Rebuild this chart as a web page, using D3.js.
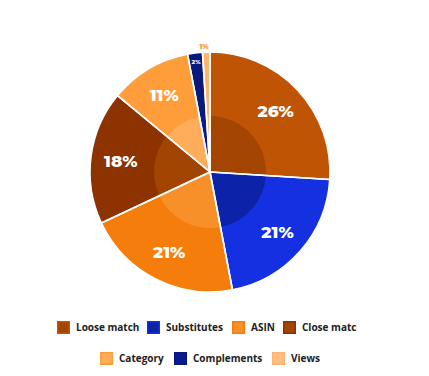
<!DOCTYPE html>
<html><head><meta charset="utf-8">
<script src="https://cdn.jsdelivr.net/npm/d3@7"></script>
<style>html,body{margin:0;padding:0;background:#fff;}svg{display:block;}</style>
</head><body>
<svg id="chart" width="429" height="376"></svg>
<script>
const categories = ["Loose match","Substitutes","ASIN","Close match","Category","Complements","Views"];
const values = [26,21,21,18,11,2,1];
const labels = ["26%","21%","21%","18%","11%","2%","1%"];
const colors = ["#c05405","#1430e0","#f57d0c","#8c3300","#fe9d3a","#0a1a7a","#ffb470"];
const innerColors = ["#a54502","#0c22a8","#f8902a","#a24402","#ffad5a","#0a1a90","#ffbe80"];

const svg = d3.select("#chart");
const cx = 210, cy = 172, R = 120, rIn = 56;
const g = svg.append("g").attr("transform", `translate(${cx},${cy})`);
const pie = d3.pie().sort(null).value(d => d)(values);
const arc = d3.arc().innerRadius(0).outerRadius(R);
const arcIn = d3.arc().innerRadius(0).outerRadius(rIn);

g.selectAll("path.o").data(pie).join("path").attr("class","o")
  .attr("d", arc).attr("fill", (d,i) => colors[i]);
g.selectAll("path.i").data(pie).join("path").attr("class","i")
  .attr("d", arcIn).attr("fill", (d,i) => innerColors[i]);
g.selectAll("path.s").data(pie).join("path").attr("class","s")
  .attr("d", arc).attr("fill", "none").attr("stroke","#fff").attr("stroke-width",1.6).attr("stroke-linejoin","round");

const labArc = d3.arc().innerRadius(90).outerRadius(90);
g.selectAll("text.l").data(pie).join("text").attr("class","l")
  .attr("transform", (d,i) => {
    if (i === 5) { const c = d3.arc().innerRadius(111).outerRadius(111).centroid(d); return `translate(${c})`; }
    if (i === 6) { const c = d3.arc().innerRadius(126).outerRadius(126).centroid(d); return `translate(${c[0]-2},${c[1]})`; }
    return `translate(${labArc.centroid(d)})`;
  })
  .attr("text-anchor","middle").attr("dy","0.36em")
  .attr("font-family","Montserrat, 'Open Sans', sans-serif").attr("font-weight",800)
  .attr("font-size", (d,i) => i === 5 ? 6 : i === 6 ? 7 : 17)
  .attr("fill", (d,i) => i === 6 ? "#f7903a" : "#fff")
  .text((d,i) => labels[i]);

// legend
const row1 = [{i:0,x:57},{i:1,x:147},{i:2,x:232},{i:3,x:283}];
const row2 = [{i:4,x:100},{i:5,x:174},{i:6,x:272}];
svg.append("clipPath").attr("id","lc").append("rect").attr("x",0).attr("y",300).attr("width",357).attr("height",76);
const lg = svg.append("g").attr("clip-path","url(#lc)");
function drawRow(items, y) {
  items.forEach(it => {
    lg.append("rect").attr("x", it.x+0.75).attr("y", y-6+0.75).attr("width", 11.5).attr("height", 11.5)
      .attr("fill", innerColors[it.i]).attr("stroke", colors[it.i]).attr("stroke-width", 1.5);
    lg.append("text").attr("x", it.x+19).attr("y", y).attr("dy","0.35em")
      .attr("font-family","'Open Sans', sans-serif").attr("font-weight",700).attr("font-size",10)
      .attr("fill","#222").text(categories[it.i]);
  });
}
drawRow(row1, 327);
drawRow(row2, 358);
</script>
</body></html>
